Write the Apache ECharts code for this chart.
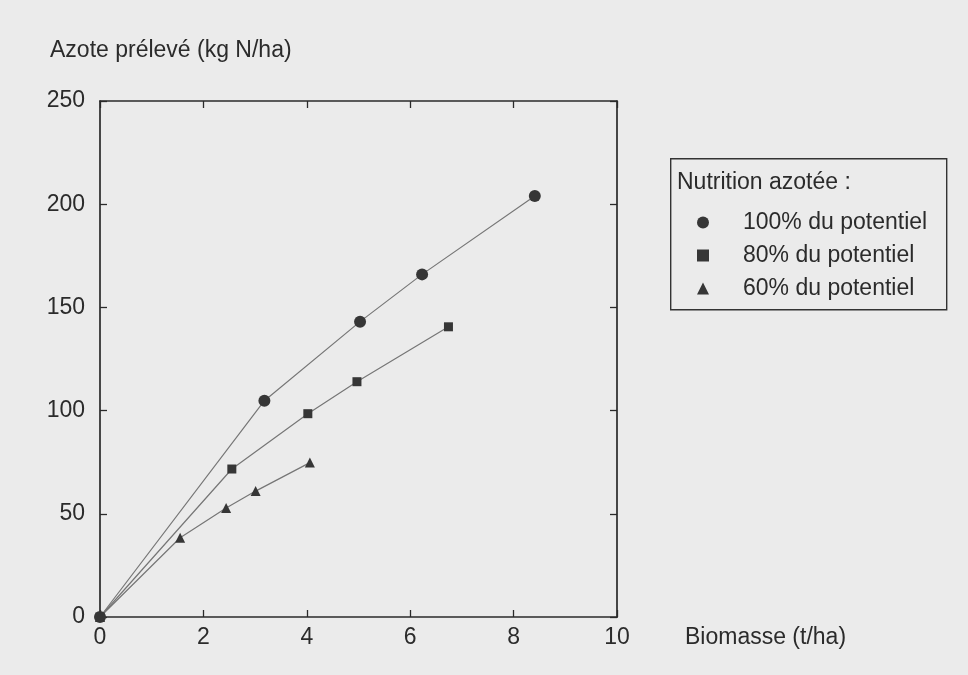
<!DOCTYPE html>
<html>
<head>
<meta charset="utf-8">
<script src="https://cdn.jsdelivr.net/npm/echarts@6/dist/echarts.min.js"></script>
<style>
html,body{margin:0;padding:0;background:#ebebeb;}
#chart{width:968px;height:675px;}
</style>
</head>
<body>
<div id="chart"></div>
<script>
// Data
const seriesNames = ['100% du potentiel', '80% du potentiel', '60% du potentiel'];
const biomasse100 = [0, 3.18, 5.03, 6.23, 8.41];
const azote100    = [0, 104.8, 143.1, 166.0, 204.0];
const biomasse80  = [0, 2.55, 4.02, 4.97, 6.74];
const azote80     = [0, 71.7, 98.5, 114.0, 140.6];
const biomasse60  = [0, 1.55, 2.44, 3.01, 4.06];
const azote60     = [0, 38.4, 52.8, 61.0, 74.8];
const xTicks = [0, 2, 4, 6, 8, 10];
const yTicks = [0, 50, 100, 150, 200, 250];

const pairs = (xs, ys) => xs.map((x, i) => [x, ys[i]]);

const FONT = '"Liberation Sans", Arial, sans-serif';
const FS = 23;
const TXT = '#2b2b2b';
const AX = '#2a2a2a';

const chart = echarts.init(document.getElementById('chart'), null, {renderer: 'canvas'});

const axisCommon = {
  type: 'value',
  axisLine: {show: true, onZero: false, lineStyle: {color: AX, width: 1.7}},
  axisTick: {show: true, inside: true, length: 7, lineStyle: {color: AX, width: 1.3}},
  splitLine: {show: false}
};

const lineStyle = {color: '#767676', width: 1.2};
const mk = '#363636';

chart.setOption({
  backgroundColor: '#ebebeb',
  animation: false,
  title: {
    text: 'Azote prélevé (kg N/ha)',
    left: 45, top: 34,
    textStyle: {fontFamily: FONT, fontSize: FS, fontWeight: 'normal', color: TXT}
  },
  grid: {left: 100, top: 101, width: 517, height: 516},
  xAxis: [
    Object.assign({}, axisCommon, {
      position: 'bottom', min: xTicks[0], max: xTicks[xTicks.length - 1], interval: 2,
      name: 'Biomasse (t/ha)', nameLocation: 'end', nameGap: 68,
      nameTextStyle: {fontFamily: FONT, fontSize: FS, color: TXT, verticalAlign: 'top', padding: [9, 0, 0, 0]},
      axisLabel: {fontFamily: FONT, fontSize: FS, color: TXT, margin: 9}
    }),
    Object.assign({}, axisCommon, {
      position: 'top', min: 0, max: 10, interval: 2, axisLabel: {show: false}
    })
  ],
  yAxis: [
    Object.assign({}, axisCommon, {
      position: 'left', min: yTicks[0], max: yTicks[yTicks.length - 1], interval: 50,
      axisLabel: {fontFamily: FONT, fontSize: FS, color: TXT, margin: 15}
    }),
    Object.assign({}, axisCommon, {
      position: 'right', min: 0, max: 250, interval: 50, axisLabel: {show: false}
    })
  ],
  legend: {
    orient: 'vertical', left: 697, top: 211, padding: 0,
    itemWidth: 12, itemHeight: 12, itemGap: 10,
    textStyle: {fontFamily: FONT, fontSize: FS, lineHeight: 22, color: TXT, padding: [0, 0, 0, 29]},
    data: [
      {name: seriesNames[0], icon: 'circle'},
      {name: seriesNames[1], icon: 'rect'},
      {name: seriesNames[2], icon: 'triangle'}
    ]
  },
  graphic: [
    {type: 'rect', left: 670, top: 158, shape: {width: 276, height: 151},
     style: {fill: 'transparent', stroke: '#333', lineWidth: 1.4}, z: 100},
    {type: 'text', left: 677, top: 171,
     style: {text: 'Nutrition azotée :', font: FS + 'px ' + FONT, fill: TXT}, z: 100}
  ],
  series: [
    {name: seriesNames[0], type: 'line', data: pairs(biomasse100, azote100),
     symbol: 'circle', symbolSize: 12, lineStyle: lineStyle, itemStyle: {color: mk}, z: 3},
    {name: seriesNames[1], type: 'line', data: pairs(biomasse80, azote80),
     symbol: 'rect', symbolSize: 9, lineStyle: lineStyle, itemStyle: {color: mk}, z: 3},
    {name: seriesNames[2], type: 'line', data: pairs(biomasse60, azote60),
     symbol: 'triangle', symbolSize: 10, lineStyle: lineStyle, itemStyle: {color: mk}, z: 3}
  ]
});
</script>
</body>
</html>
